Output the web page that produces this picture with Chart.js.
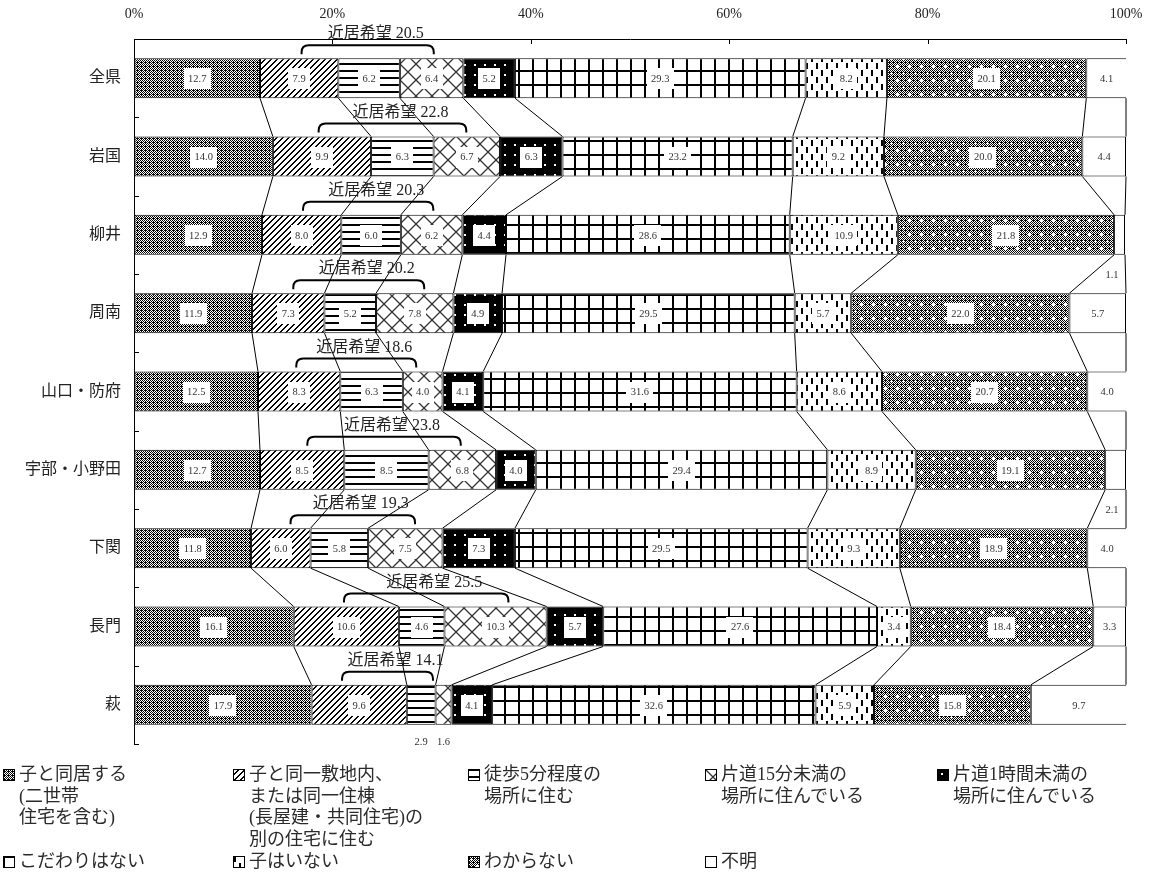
<!DOCTYPE html>
<html>
<head>
<meta charset="utf-8">
<script src="https://cdn.jsdelivr.net/npm/chart.js@4.4.1/dist/chart.umd.min.js"></script>
<style>
  body { margin: 0; background: #fff; }
  #wrap { position: relative; width: 1154px; height: 876px; }
  #legend { position: absolute; left: 0; top: 0; font-family: 'Liberation Serif', 'Noto Sans CJK JP', serif; font-size: 18px; line-height: 21.5px; color: #2a2a2a; }
  .item { position: absolute; }
  .item canvas { position: absolute; left: 0; top: 5px; }
  .item div { position: absolute; left: 16px; top: 0; white-space: nowrap; }
</style>
</head>
<body>
<div id="wrap">
  <canvas id="myChart" width="1154" height="876"></canvas>
  <div id="legend"></div>
</div>
<script>
// regions (top to bottom)
const regions = ["全県", "岩国", "柳井", "周南", "山口・防府", "宇部・小野田", "下関", "長門", "萩"];

// answer categories (stack order, left to right)
const seriesNames = [
  "子と同居する\n(二世帯\n住宅を含む)",
  "子と同一敷地内、\nまたは同一住棟\n(長屋建・共同住宅)の\n別の住宅に住む",
  "徒歩5分程度の\n場所に住む",
  "片道15分未満の\n場所に住んでいる",
  "片道1時間未満の\n場所に住んでいる",
  "こだわりはない",
  "子はいない",
  "わからない",
  "不明"
];

// values in %
const sameHouse   = [12.7, 14.0, 12.9, 11.9, 12.5, 12.7, 11.8, 16.1, 17.9];
const sameSite    = [7.9, 9.9, 8.0, 7.3, 8.3, 8.5, 6.0, 10.6, 9.6];
const walk5       = [6.2, 6.3, 6.0, 5.2, 6.3, 8.5, 5.8, 4.6, 2.9];
const within15    = [6.4, 6.7, 6.2, 7.8, 4.0, 6.8, 7.5, 10.3, 1.6];
const within60    = [5.2, 6.3, 4.4, 4.9, 4.1, 4.0, 7.3, 5.7, 4.1];
const noPref      = [29.3, 23.2, 28.6, 29.5, 31.6, 29.4, 29.5, 27.6, 32.6];
const noChild     = [8.2, 9.2, 10.9, 5.7, 8.6, 8.9, 9.3, 3.4, 5.9];
const dontKnow    = [20.1, 20.0, 21.8, 22.0, 20.7, 19.1, 18.9, 18.4, 15.8];
const unknown     = [4.1, 4.4, 1.1, 5.7, 4.0, 2.1, 4.0, 3.3, 9.7];
// 近居希望 totals
const nearHope    = [20.5, 22.8, 20.3, 20.2, 18.6, 23.8, 19.3, 25.5, 14.1];
const xTicks = [0, 20, 40, 60, 80, 100];

const allSeries = [sameHouse, sameSite, walk5, within15, within60, noPref, noChild, dontKnow, unknown];
const FONT = "'Liberation Serif', 'Noto Sans CJK JP', serif";

// ---- patterns ----
function tile(w, h, draw) {
  const c = document.createElement("canvas");
  c.width = w; c.height = h;
  const g = c.getContext("2d");
  g.fillStyle = "#fff";
  g.fillRect(0, 0, w, h);
  draw(g, w, h);
  return c;
}
function dither(g, w, h) {
  g.fillStyle = "#000";
  for (let y = 0; y < h; y++)
    for (let x = 0; x < w; x++)
      if ((x + y) % 2 === 0 || (x % 4 === 1 && y % 4 === 2)) g.fillRect(x, y, 1, 1);
}
function plus(g, x, y) {
  g.fillStyle = "#fff";
  g.fillRect(x - 1, y, 3, 1);
  g.fillRect(x, y - 1, 1, 3);
}
const tiles = [
  tile(4, 4, dither),
  tile(6, 6, (g) => { g.fillStyle = "#000"; for (let i = 0; i < 6; i++) { g.fillRect(i, 5 - i, 1, 1); g.fillRect(i, (6 - i) % 6, 1, 1); } }),
  tile(1, 7, (g) => { g.fillStyle = "#000"; g.fillRect(0, 0, 1, 2); }),
  tile(16, 16, (g) => { g.strokeStyle = "#333"; g.lineWidth = 1.3; g.beginPath(); g.moveTo(0, 0); g.lineTo(16, 16); g.moveTo(16, 0); g.lineTo(0, 16); g.stroke(); }),
  tile(10, 10, (g) => { g.fillStyle = "#000"; g.fillRect(0, 0, 10, 10); g.fillStyle = "#fff"; g.fillRect(4, 4, 2, 2); }),
  tile(14, 14, (g) => { g.fillStyle = "#000"; g.fillRect(0, 0, 14, 2); g.fillRect(0, 0, 2, 14); }),
  tile(10, 14, (g) => { g.fillStyle = "#000"; g.fillRect(1, 0, 2, 6); g.fillRect(6, 7, 2, 6); }),
  tile(12, 14, (g, w, h) => { dither(g, w, h); plus(g, 3, 3); plus(g, 9, 10); }),
  tile(2, 2, () => {})
];
const helper = document.createElement("canvas").getContext("2d");
const patterns = tiles.map((t) => helper.createPattern(t, "repeat"));

// ---- connectors, labels, brackets ----
const decor = {
  id: "decor",
  afterDatasetsDraw(chart) {
    const ctx = chart.ctx;
    const xs = chart.scales.x, ys = chart.scales.y;
    const area = chart.chartArea;
    const n = regions.length;
    ctx.save();
    ctx.strokeStyle = "#000";
    ctx.lineWidth = 1;

    // inner ticks
    ctx.beginPath();
    xTicks.forEach((v) => {
      const px = Math.round(xs.getPixelForValue(v)) + 0.5;
      ctx.moveTo(px, area.top); ctx.lineTo(px, area.top + 5);
    });
    for (let k = 0; k <= n; k++) {
      const py = Math.round(ys.getPixelForValue(k - 0.5)) + 0.5;
      ctx.moveTo(area.left, py); ctx.lineTo(area.left + 5, py);
    }
    ctx.stroke();

    const bar = (d, j) => chart.getDatasetMeta(d).data[j].getProps(["x", "y", "base", "height"], true);
    const cum = (j) => {
      const out = [0];
      allSeries.forEach((s) => out.push(Math.min(100, out[out.length - 1] + s[j])));
      return out;
    };

    // connector lines between bars
    ctx.beginPath();
    for (let j = 0; j < n - 1; j++) {
      const a = cum(j), b = cum(j + 1);
      const e0 = bar(0, j), e1 = bar(0, j + 1);
      const yA = e0.y + e0.height / 2, yB = e1.y - e1.height / 2;
      for (let k = 1; k < a.length; k++) {
        ctx.moveTo(xs.getPixelForValue(a[k]), yA);
        ctx.lineTo(xs.getPixelForValue(b[k]), yB);
      }
    }
    ctx.stroke();

    // value labels
    ctx.font = "10.5px " + FONT;
    ctx.textAlign = "center";
    ctx.textBaseline = "middle";
    for (let j = 0; j < n; j++) {
      allSeries.forEach((s, d) => {
        const e = bar(d, j);
        const txt = s[j].toFixed(1);
        const last = d === allSeries.length - 1;
        let cx = (e.x + e.base) / 2, cy = e.y;
        if (s[j] < 3) {
          if (last) { cx = area.right - 14; cy = e.y + e.height / 2 + 19; }
          else { cy = e.y + e.height / 2 + 16; }
        } else if (!last) {
          const w = ctx.measureText(txt).width + 9;
          ctx.fillStyle = "#fff";
          ctx.fillRect(Math.round(cx - w / 2), Math.round(cy - 10), Math.round(w), 21);
        }
        ctx.fillStyle = "#333";
        ctx.fillText(txt, cx, cy + 1);
      });
    }

    // 近居希望 brackets
    ctx.lineWidth = 2;
    ctx.font = "16px " + FONT;
    for (let j = 0; j < n; j++) {
      const c = cum(j);
      const pa = xs.getPixelForValue(c[1]), pb = xs.getPixelForValue(c[4]);
      const mid = (pa + pb) / 2 + 6, half = 0.65 * (pb - pa) / 2;
      const L = mid - half, R = mid + half;
      const top = bar(0, j).y - bar(0, j).height / 2;
      const y0 = top - 13, y1 = top - 4, r = 7;
      ctx.beginPath();
      ctx.moveTo(L, y1); ctx.lineTo(L, y0 + r);
      ctx.quadraticCurveTo(L, y0, L + r, y0);
      ctx.lineTo(R - r, y0);
      ctx.quadraticCurveTo(R, y0, R, y0 + r);
      ctx.lineTo(R, y1);
      ctx.stroke();
      ctx.fillStyle = "#222";
      ctx.fillText("近居希望 " + nearHope[j].toFixed(1), mid + 8, top - 24);
    }
    ctx.restore();
  }
};

const ctx = document.getElementById("myChart").getContext("2d");
const myChart = new Chart(ctx, {
  type: "bar",
  data: {
    labels: regions,
    datasets: seriesNames.map((name, i) => ({
      label: name,
      data: allSeries[i],
      backgroundColor: patterns[i],
      borderColor: "#000",
      borderWidth: 1,
      borderSkipped: false,
      barPercentage: 0.51,
      categoryPercentage: 1
    }))
  },
  options: {
    indexAxis: "y",
    responsive: false,
    animation: false,
    layout: { padding: { left: 0, right: 28, top: 0, bottom: 132 } },
    plugins: { legend: { display: false }, tooltip: { enabled: false } },
    scales: {
      x: {
        stacked: true,
        position: "top",
        min: 0,
        max: 100,
        ticks: { stepSize: 20, callback: (v) => v + "%", font: { family: FONT, size: 14 }, color: "#222", padding: 16, maxRotation: 0 },
        grid: { drawOnChartArea: false, drawTicks: false },
        border: { color: "#000", width: 1 },
        afterFit(s) { s.height = 39; s.paddingLeft = 0; s.paddingRight = 0; }
      },
      y: {
        stacked: true,
        ticks: { font: { family: FONT, size: 16 }, color: "#222", padding: 13 },
        grid: { drawOnChartArea: false, drawTicks: false },
        border: { color: "#000", width: 1 },
        afterFit(s) { s.width = 134; s.paddingTop = 0; s.paddingBottom = 0; }
      }
    }
  },
  plugins: [decor]
});

// ---- legend (html) ----
const legendPos = [
  [3, 764], [233, 764], [468, 764], [705, 764], [937, 764],
  [3, 851], [233, 851], [468, 851], [705, 851]
];
const legend = document.getElementById("legend");
seriesNames.forEach((name, i) => {
  const item = document.createElement("div");
  item.className = "item";
  item.style.left = legendPos[i][0] + "px";
  item.style.top = legendPos[i][1] + "px";
  const sw = document.createElement("canvas");
  sw.width = 12; sw.height = 12;
  const g = sw.getContext("2d");
  g.fillStyle = g.createPattern(tiles[i], "repeat");
  g.fillRect(0, 0, 12, 12);
  g.strokeStyle = "#000";
  g.strokeRect(0.5, 0.5, 11, 11);
  const txt = document.createElement("div");
  txt.innerHTML = name.split("\n").join("<br>");
  item.appendChild(sw);
  item.appendChild(txt);
  legend.appendChild(item);
});
</script>
</body>
</html>
